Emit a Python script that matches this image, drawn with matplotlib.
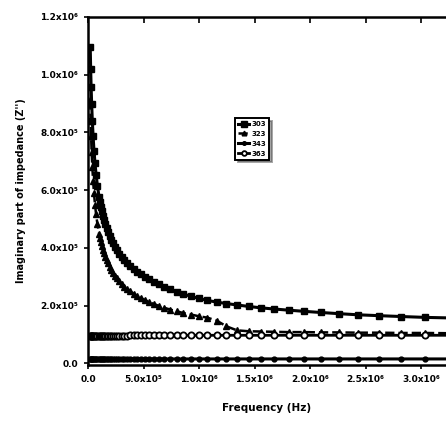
import matplotlib
matplotlib.use("Agg")
import matplotlib.pyplot as plt

plt.rcParams['font.family'] = ['DejaVu Sans']
plt.rcParams['font.weight'] = 'bold'

# Frequency (Hz)
freq = [2.0e4, 2.4e4, 2.8e4, 3.3e4, 3.9e4, 4.6e4, 5.4e4, 6.3e4, 7.3e4, 8.5e4,
        1.00e5, 1.08e5, 1.16e5, 1.25e5, 1.35e5, 1.45e5, 1.56e5, 1.68e5, 1.81e5, 1.95e5,
        2.10e5, 2.26e5, 2.44e5, 2.62e5, 2.83e5, 3.04e5, 3.28e5, 3.53e5, 3.80e5, 4.10e5,
        4.41e5, 4.75e5, 5.12e5, 5.51e5, 5.94e5, 6.39e5, 6.89e5, 7.42e5, 7.99e5, 8.60e5,
        9.27e5, 9.98e5, 1.075e6, 1.158e6, 1.247e6, 1.343e6, 1.446e6, 1.558e6, 1.678e6, 1.807e6,
        1.946e6, 2.096e6, 2.257e6, 2.431e6, 2.618e6, 2.820e6, 3.037e6, 3.271e6]

# Imaginary impedance (x10^6 ohm)
z_a = [1.097, 1.020, 0.959, 0.898, 0.840, 0.786, 0.737, 0.693, 0.654, 0.615,
       0.576, 0.559, 0.543, 0.527, 0.511, 0.497, 0.482, 0.468, 0.455, 0.441,
       0.428, 0.416, 0.403, 0.392, 0.380, 0.369, 0.358, 0.348, 0.338, 0.328,
       0.318, 0.309, 0.300, 0.291, 0.283, 0.274, 0.265, 0.256, 0.248, 0.240,
       0.232, 0.225, 0.218, 0.212, 0.207, 0.202, 0.197, 0.192, 0.188, 0.184,
       0.180, 0.176, 0.172, 0.168, 0.165, 0.162, 0.159, 0.157]
z_b = [0.911, 0.841, 0.786, 0.731, 0.680, 0.632, 0.589, 0.550, 0.516, 0.482,
       0.449, 0.434, 0.421, 0.407, 0.394, 0.381, 0.369, 0.357, 0.346, 0.335,
       0.324, 0.314, 0.303, 0.294, 0.284, 0.275, 0.266, 0.258, 0.249, 0.241,
       0.234, 0.226, 0.219, 0.212, 0.205, 0.199, 0.192, 0.186, 0.180, 0.174,
       0.169, 0.163, 0.158, 0.148, 0.128, 0.114, 0.111, 0.110, 0.109, 0.108,
       0.108, 0.107, 0.107, 0.106, 0.106, 0.105, 0.105, 0.104]
z_c = [0.095, 0.095, 0.095, 0.095, 0.095, 0.095, 0.095, 0.095, 0.095, 0.095,
       0.095, 0.095, 0.096, 0.096, 0.096, 0.096, 0.096, 0.096, 0.096, 0.096,
       0.096, 0.096, 0.096, 0.096, 0.096, 0.096, 0.096, 0.096, 0.097, 0.097,
       0.097, 0.097, 0.097, 0.097, 0.097, 0.097, 0.097, 0.097, 0.097, 0.097,
       0.097, 0.097, 0.097, 0.097, 0.097, 0.097, 0.097, 0.097, 0.097, 0.097,
       0.097, 0.097, 0.097, 0.097, 0.097, 0.097, 0.097, 0.097]
z_d = [0.014, 0.014, 0.014, 0.014, 0.014, 0.014, 0.014, 0.014, 0.014, 0.014,
       0.014, 0.014, 0.014, 0.014, 0.014, 0.014, 0.014, 0.014, 0.014, 0.014,
       0.014, 0.014, 0.014, 0.014, 0.014, 0.014, 0.014, 0.014, 0.015, 0.015,
       0.015, 0.015, 0.015, 0.015, 0.015, 0.015, 0.015, 0.015, 0.015, 0.015,
       0.015, 0.015, 0.015, 0.015, 0.015, 0.015, 0.015, 0.015, 0.015, 0.015,
       0.015, 0.015, 0.015, 0.015, 0.015, 0.015, 0.015, 0.015]

series_labels = ["303", "323", "343", "363"]

xticks = [0, 5e5, 1e6, 1.5e6, 2e6, 2.5e6, 3e6]
xticklabels = ["0.0", "5.0x10⁵", "1.0x10⁶", "1.5x10⁶", "2.0x10⁶", "2.5x10⁶", "3.0x10⁶"]
yticks = [0.0, 0.2, 0.4, 0.6, 0.8, 1.0, 1.2]
yticklabels = ["0.0", "2.0x10⁵", "4.0x10⁵", "6.0x10⁵", "8.0x10⁵", "1.0x10⁶", "1.2x10⁶"]

fig = plt.figure(figsize=(4.46, 4.26), dpi=100)
ax = fig.add_axes([88/446, 61/426, 358/446, 348/426])

ax.plot(freq, z_a, '-s', color='black', lw=2.2, ms=5, label=series_labels[0])
ax.plot(freq, z_b, '--^', color='black', lw=1.8, ms=4.5, label=series_labels[1])
ax.plot(freq, z_d, '-o', color='black', lw=2.2, ms=3.5, label=series_labels[2])
ax.plot(freq, z_c, '-o', color='black', mfc='white', lw=2.0, ms=4.5, mew=1.3, label=series_labels[3])

ax.set_xlim(0, 3.225e6)
ax.set_ylim(-0.006, 1.2)
ax.set_xticks(xticks)
ax.set_xticklabels(xticklabels, fontsize=6.5, fontweight='bold')
ax.set_yticks(yticks)
ax.set_yticklabels(yticklabels, fontsize=6.5, fontweight='bold')
ax.tick_params(direction='out', length=3, width=1.2, pad=4)

for s in ['left', 'bottom', 'top']:
    ax.spines[s].set_linewidth(1.8)
ax.spines['right'].set_visible(False)

top = ax.secondary_xaxis('top')
top.set_xticks(xticks)
top.set_xticklabels([])
top.tick_params(direction='in', length=4, width=1.2)
top.spines['top'].set_visible(False)

ax.set_xlabel("Frequency (Hz)", fontsize=7.5, fontweight='bold', labelpad=14)
ax.set_ylabel("Imaginary part of impedance (Z'')", fontsize=7, fontweight='bold', labelpad=10)

leg = ax.legend(loc='center', bbox_to_anchor=(0.458, 0.65), fontsize=5,
                handlelength=1.6, handletextpad=0.3, borderpad=0.45, labelspacing=0.55,
                frameon=True, fancybox=False, shadow=True, markerscale=0.75)
leg.get_frame().set_edgecolor('black')
leg.get_frame().set_linewidth(1.4)

fig.savefig("out.png", dpi=100)
